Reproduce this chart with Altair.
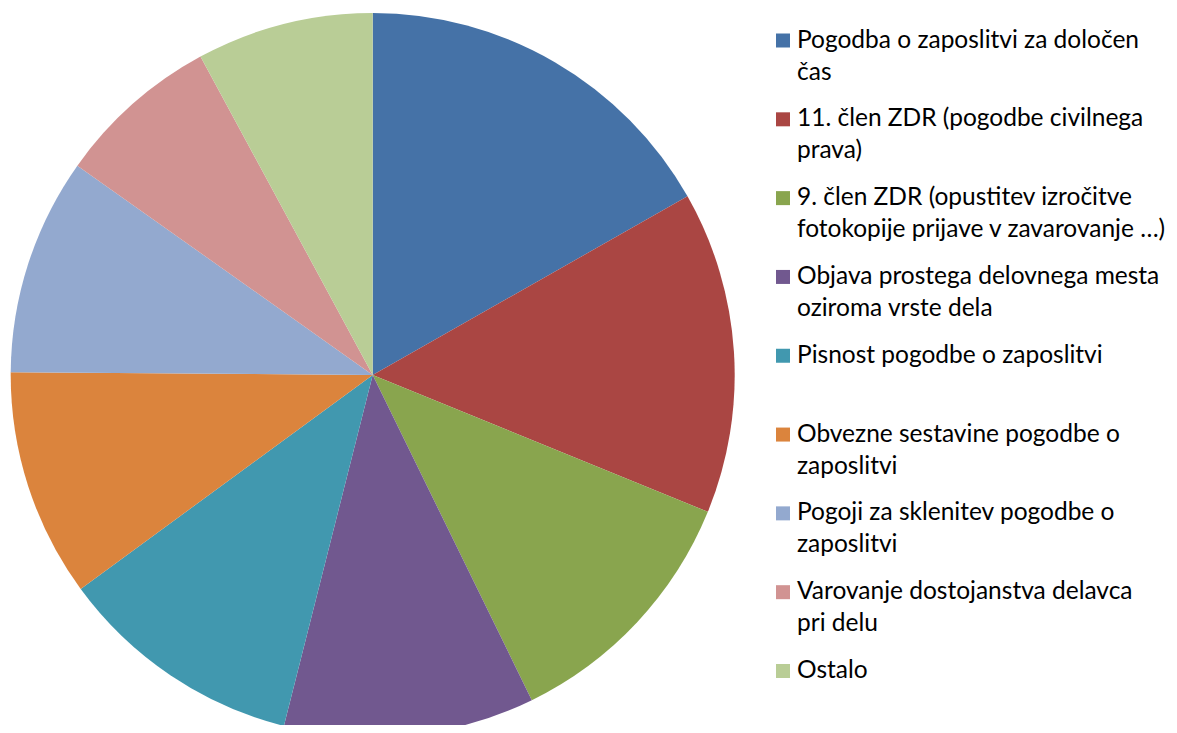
import altair as alt
import pandas as pd

categories = [
    "Pogodba o zaposlitvi za določen čas",
    "11. člen ZDR (pogodbe civilnega prava)",
    "9. člen ZDR (opustitev izročitve fotokopije prijave v zavarovanje …)",
    "Objava prostega delovnega mesta oziroma vrste dela",
    "Pisnost pogodbe o zaposlitvi",
    "Obvezne sestavine pogodbe o zaposlitvi",
    "Pogoji za sklenitev pogodbe o zaposlitvi",
    "Varovanje dostojanstva delavca pri delu",
    "Ostalo",
]
label_line1 = [
    "Pogodba o zaposlitvi za določen",
    "11. člen ZDR (pogodbe civilnega",
    "9. člen ZDR (opustitev izročitve",
    "Objava prostega delovnega mesta",
    "Pisnost pogodbe o zaposlitvi",
    "Obvezne sestavine pogodbe o",
    "Pogoji za sklenitev pogodbe o",
    "Varovanje dostojanstva delavca",
    "Ostalo",
]
label_line2 = [
    "čas",
    "prava)",
    "fotokopije prijave v zavarovanje …)",
    "oziroma vrste dela",
    "",
    "zaposlitvi",
    "zaposlitvi",
    "pri delu",
    "",
]
shares = [16.8, 14.4, 11.6, 11.2, 11.0, 10.2, 9.7, 7.3, 7.9]
colors = ["#4572A7", "#AA4643", "#89A54E", "#71588F", "#4198AF",
          "#DB843D", "#93A9CF", "#D19392", "#B9CD96"]

df = pd.DataFrame({
    "cat": categories,
    "idx": list(range(len(categories))),
    "value": shares,
    "line1": label_line1,
    "line2": label_line2,
})

color = alt.Color("cat:N", scale=alt.Scale(domain=categories, range=colors), legend=None)
base = alt.Chart(df)

pie = base.mark_arc(outerRadius=362).encode(
    theta=alt.Theta("value:Q", stack=True),
    color=color,
    order=alt.Order("idx:Q"),
    x=alt.value(364.7),
    y=alt.value(367),
)

yenc = alt.Y("cat:N", sort=categories,
             scale=alt.Scale(type="point", range=[32.5, 663], padding=0), axis=None)

squares = base.mark_square(size=196, opacity=1, filled=True).encode(
    x=alt.value(775), y=yenc, color=color
)
text1 = base.mark_text(align="left", baseline="middle", font="Lato", fontSize=24.5,
                       color="black").encode(x=alt.value(789), y=yenc, text="line1:N")
text2 = base.mark_text(align="left", baseline="middle", font="Lato", fontSize=24.5,
                       color="black", dy=32).encode(x=alt.value(789), y=yenc, text="line2:N")

chart = alt.layer(pie, squares, text1, text2).properties(
    width=1161, height=717, padding=0, autosize="none"
).configure_view(stroke=None)

chart.save("out.html", embed_options={"renderer": "svg", "actions": False})
